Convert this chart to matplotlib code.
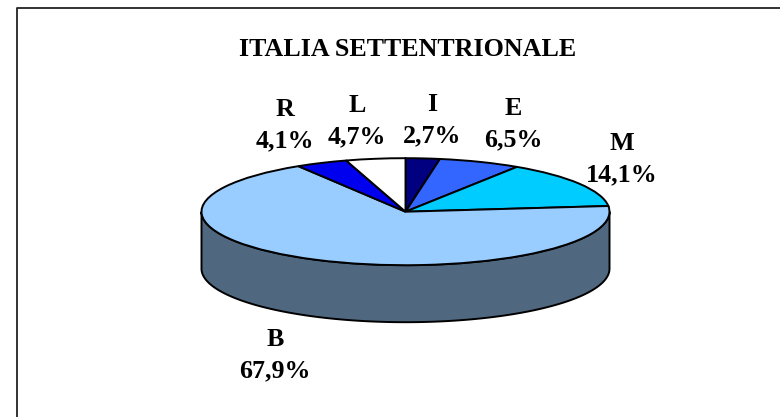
import numpy as np
import matplotlib
matplotlib.use("Agg")
import matplotlib.pyplot as plt
from matplotlib.lines import Line2D

categories = ["I", "E", "M", "B", "R", "L"]
values = [2.7, 6.5, 14.1, 67.9, 4.1, 4.7]
colors = ["#000080", "#3366FF", "#00CCFF", "#99CCFF", "#0000EE", "#FFFFFF"]
side_color = "#4F6880"
title = "ITALIA SETTENTRIONALE"
label_xy = [(432, 120), (513, 124), (622, 159), (275, 355), (285, 125), (357, 121)]

W, H = 780, 417
plt.rcParams["font.family"] = ["Liberation Serif", "DejaVu Serif"]
fig = plt.figure(figsize=(W / 100, H / 100), dpi=100, facecolor="white")

cx, cy, a, b, depth = 405.5, 211.7, 204.0, 53.5, 57.0
ax = fig.add_axes([(cx - a) / W, 1 - (cy + b) / H, 2 * a / W, 2 * b / H])
ax.pie(values, colors=colors, startangle=90, counterclock=False, radius=1,
       wedgeprops=dict(edgecolor="black", linewidth=1.4))
ax.set_xlim(-1, 1)
ax.set_ylim(-1, 1)
ax.set_aspect("auto")

t = np.linspace(np.pi, 2 * np.pi, 200)
xs = np.cos(t)
ys = np.sin(t)
d = depth / b
px = np.r_[xs, xs[::-1]]
py = np.r_[ys, ys[::-1] - d]
ax.fill(px, py, facecolor=side_color, edgecolor="black", linewidth=1.4,
        clip_on=False, zorder=0.5)
for p in ax.patches:
    p.set_clip_on(False)

fig.add_artist(Line2D([16.5 / W, 16.5 / W, 1],
                      [0, 1 - 8 / H, 1 - 8 / H], color="#222222", lw=1.3))

fig.text(408 / W, 1 - 49 / H, title, ha="center", va="center",
         fontsize=18.7, fontweight="bold")

for c, v, (x, y) in zip(categories, values, label_xy):
    s = f"{c}\n{v:.1f}%".replace(".", ",")
    fig.text(x / W, 1 - y / H, s, ha="center", va="center", fontsize=18.7,
             fontweight="bold", linespacing=1.45)

fig.savefig("out.png", dpi=100)
